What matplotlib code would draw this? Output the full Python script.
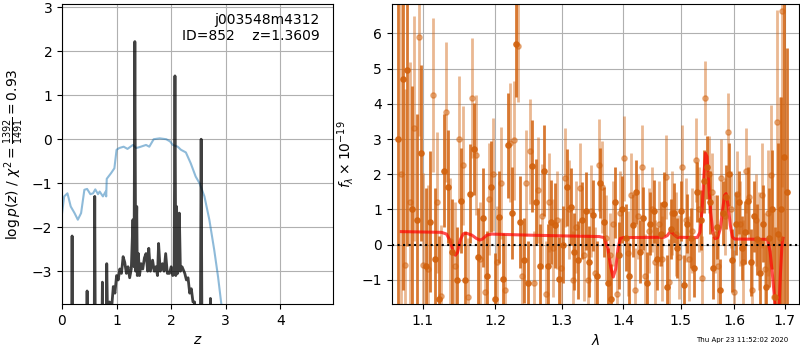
import numpy as np
import matplotlib
matplotlib.use('Agg')
from matplotlib import pyplot as plt
from matplotlib.ticker import ScalarFormatter, NullLocator, FixedLocator

# --- left panel: redshift fit ---
z_chi = [0.0, 0.04, 0.1, 0.16, 0.23, 0.29, 0.35, 0.41, 0.46, 0.52, 0.57, 0.61, 0.66,
         0.69, 0.75, 0.80, 0.81, 0.82, 0.9, 0.96, 1.0, 1.05, 1.13, 1.2, 1.3, 1.36,
         1.42, 1.54, 1.6, 1.68, 1.79, 1.91, 1.98, 2.03, 2.12, 2.18, 2.27, 2.36, 2.45,
         2.52, 2.61, 2.7, 2.79, 2.86, 2.92, 3.0]
chi_curve = [-1.69, -1.3, -1.23, -1.53, -1.68, -1.83, -1.68, -1.15, -1.13, -1.25, -1.23,
             -1.14, -1.25, -1.19, -1.3, -1.19, -1.3, -0.9, -0.77, -0.66, -0.24, -0.2,
             -0.17, -0.22, -0.13, -0.2, -0.18, -0.13, -0.17, 0.0, 0.02, 0.0, -0.05,
             -0.13, -0.17, -0.24, -0.3, -0.55, -0.85, -1.0, -1.3, -1.83, -2.52, -3.13,
             -3.75, -4.6]

z_grid = [0.0, 0.17, 0.185, 0.2, 0.44, 0.46, 0.48, 0.585, 0.6, 0.615, 0.72, 0.74, 0.76,
          0.8, 0.82, 0.84, 0.87, 0.9, 0.94, 0.97, 1.0, 1.03, 1.06, 1.09, 1.12, 1.15,
          1.18, 1.21, 1.24, 1.27, 1.3, 1.32, 1.335, 1.35, 1.37, 1.38, 1.4, 1.42, 1.45,
          1.48, 1.51, 1.54, 1.57, 1.59, 1.62, 1.66, 1.69, 1.72, 1.75, 1.77, 1.8, 1.84,
          1.87, 1.9, 1.93, 1.97, 2.0, 2.03, 2.055, 2.07, 2.085, 2.1, 2.12, 2.15, 2.17,
          2.2, 2.25, 2.28, 2.31, 2.34, 2.37, 2.4, 2.43, 2.47, 2.53, 2.55, 2.57, 2.62,
          2.7, 2.72, 2.74, 3.0, 5.0]
logpz = [-6.0, -6.0, -2.2, -6.0, -6.0, -3.45, -6.0, -6.0, -1.3, -6.0, -6.0, -3.25, -6.0,
         -6.0, -2.83, -4.5, -3.7, -4.0, -3.35, -3.5, -3.1, -3.2, -2.95, -3.05, -2.67,
         -2.8, -3.05, -2.9, -3.15, -2.95, -1.83, -2.9, 2.22, -3.0, -1.53, -3.1, -2.6,
         -3.1, -2.83, -2.95, -2.7, -2.6, -3.0, -2.48, -3.0, -2.75, -3.0, -2.9, -3.1,
         -2.37, -3.0, -2.83, -3.0, -2.6, -3.05, -3.05, -2.9, -3.1, -2.9, 1.44, -3.1,
         -1.53, -3.05, -1.68, -3.0, -2.9, -3.05, -3.2, -3.15, -3.5, -3.4, -3.7, -3.7,
         -6.0, -6.0, 0.0, -6.0, -6.0, -6.0, -3.62, -6.0, -6.0, -6.0]

# --- right panel: spectrum ---
lam_dark = np.linspace(1.068, 1.704, 107)
flux_dark = [3.0, 4.7, 4.95, 1.0, 0.7, 2.6, -0.6, 0.65, -0.4, -1.55,
             2.1, 1.65, -0.2, -1.0, 1.25, -1.0, 1.45, 2.72, -0.35, 0.77,
             -0.9, 1.65, -1.55, 0.78, -0.98, 2.82, 0.9, 5.7, 0.64, -0.45,
             -1.1, 2.23, 1.22, -0.6, 2.1, -0.6, 0.64, 0.55, -0.98, 0.0,
             1.63, 1.08, -0.2, -0.43, 0.69, 0.96, -0.48, 0.83, -0.9, 1.75,
             0.65, -1.1, -1.55, 1.2, -0.3, 1.0, 0.2, -0.9, 0.55, 1.5,
             -0.2, 0.75, -1.1, 0.6, 0.95, -0.4, 0.3, 1.15, -1.2, 0.45,
             0.9, -0.1, 0.95, -1.15, 0.6, 0.2, -0.65, 1.5, 0.7, 1.8,
             2.2, 1.2, -0.65, 0.5, -1.3, 0.9, 1.35, 2.0, -0.45, 0.6,
             1.2, -0.1, 0.35, 1.25, -0.5, 0.8, 0.15, -0.8, 0.6, -1.2,
             0.2, 1.0, -1.5, 0.3, 1.0, 2.5, 1.5]
err_dark = [8.0, 6.0, 5.0, 3.5, 3.0, 2.5, 2.2, 2.0, 2.0, 1.8,
            1.6, 1.6, 1.5, 1.5, 1.5, 1.4, 1.4, 1.3, 1.4, 1.4,
            1.3, 1.3, 1.3, 1.3, 1.3, 1.5, 1.3, 1.5, 1.3, 1.2,
            1.2, 1.3, 1.2, 1.2, 1.3, 1.2, 1.2, 1.2, 1.2, 1.1,
            1.1, 1.1, 1.1, 1.1, 1.1, 1.1, 1.0, 1.0, 1.0, 1.0,
            1.0, 1.0, 1.0, 1.0, 0.95, 0.95, 0.95, 0.95, 0.9, 0.9,
            0.9, 0.9, 0.9, 0.9, 0.9, 0.9, 0.9, 0.9, 0.9, 0.85,
            0.85, 0.85, 0.85, 0.85, 0.85, 0.85, 0.85, 0.85, 0.85, 0.9,
            0.9, 0.9, 0.9, 0.9, 0.9, 0.9, 0.9, 0.9, 0.9, 0.9,
            0.9, 0.9, 0.9, 0.95, 0.95, 1.0, 1.0, 1.0, 1.1, 1.2,
            1.4, 1.7, 2.0, 2.6, 3.2, 4.5, 4.1]

lam_light = np.linspace(1.071, 1.695, 105)
flux_light = [2.0, -0.57, 1.2, 3.3, 5.9, -0.57, -0.7, 4.25, 1.2, -1.45,
              3.77, 0.1, -0.6, 3.0, 2.25, -1.5, 4.17, 2.55, -0.4, -1.35,
              1.3, 2.0, -0.5, 1.75, -1.3, 2.9, 2.96, 5.65, -0.9, 1.75,
              2.65, -1.1, 1.55, 0.8, -1.4, 1.2, -0.1, 0.7, -0.65, 1.9,
              1.0, -1.0, 0.5, 1.6, -0.3, -1.0, 0.95, -0.8, 2.27, 1.64,
              0.2, -0.3, 0.6, -1.4, 0.9, 2.45, -0.25, 1.4, -1.3, 0.8,
              2.2, -0.9, 0.4, 1.0, -0.5, 0.6, -0.4, 1.92, -1.05, 0.9,
              0.3, -0.35, 2.2, 0.7, -0.4, 0.4, 2.4, 1.0, -0.96, 4.17,
              2.0, 1.5, 0.3, -0.6, 1.9, 0.8, 3.2, 1.0, -1.35, 1.45,
              0.6, -0.5, 2.1, 1.35, -1.3, 0.7, 0.1, 1.4, -0.7, 0.9,
              1.98, -1.5, 3.47, 0.2, 6.65]
err_light = [7.0, 5.0, 4.0, 3.2, 2.8, 2.6, 2.4, 2.2, 2.0, 2.0,
             2.0, 1.8, 1.8, 1.8, 1.7, 1.7, 1.7, 1.7, 1.6, 1.6,
             1.6, 1.6, 1.6, 1.6, 1.6, 1.7, 1.7, 1.6, 1.5, 1.5,
             1.5, 1.5, 1.5, 1.5, 1.5, 1.4, 1.4, 1.4, 1.4, 1.4,
             1.4, 1.4, 1.3, 1.3, 1.3, 1.3, 1.3, 1.3, 1.3, 1.3,
             1.2, 1.2, 1.2, 1.2, 1.2, 1.2, 1.2, 1.2, 1.2, 1.2,
             1.2, 1.2, 1.2, 1.2, 1.2, 1.2, 1.2, 1.2, 1.2, 1.2,
             1.2, 1.2, 1.2, 1.2, 1.2, 1.2, 1.2, 1.2, 1.2, 1.05,
             1.1, 1.1, 1.1, 1.1, 1.1, 1.1, 1.1, 1.1, 1.2, 1.2,
             1.2, 1.2, 1.2, 1.2, 1.3, 1.3, 1.4, 1.5, 1.6, 1.8,
             2.0, 2.5, 3.2, 4.0, 5.0]

lam_model = [1.072, 1.100, 1.125, 1.132, 1.137, 1.141, 1.144, 1.147, 1.151, 1.155,
             1.160, 1.167, 1.173, 1.178, 1.182, 1.188, 1.195, 1.25, 1.30, 1.36,
             1.368, 1.374, 1.379, 1.383, 1.387, 1.391, 1.395, 1.40, 1.47, 1.476,
             1.482, 1.488, 1.494, 1.53, 1.535, 1.539, 1.542, 1.545, 1.548, 1.551,
             1.555, 1.559, 1.563, 1.568, 1.573, 1.577, 1.581, 1.584, 1.588, 1.592,
             1.596, 1.60, 1.665, 1.670, 1.675, 1.680, 1.684, 1.688, 1.691, 1.694, 1.696]
flux_model = [0.37, 0.36, 0.35, 0.30, 0.10, -0.20, -0.30, -0.22, 0.15, 0.31,
              0.32, 0.27, 0.18, 0.13, 0.16, 0.27, 0.30, 0.27, 0.25, 0.23,
              0.20, -0.10, -0.65, -0.92, -0.70, -0.10, 0.18, 0.20, 0.21, 0.26,
              0.39, 0.28, 0.21, 0.20, 0.35, 1.0, 1.9, 2.6, 2.5, 1.8,
              0.9, 0.35, 0.17, 0.20, 0.45, 0.95, 1.4, 1.45, 1.1, 0.55,
              0.22, 0.16, 0.15, -0.2, -0.9, -1.7, -2.3, -1.8, -0.8, 0.0, 0.18]

wave_ticks = [1.1, 1.2, 1.3, 1.4, 1.5, 1.6, 1.7]

fig = plt.figure(figsize=(8, 3.5), dpi=100)
ax = fig.add_axes([0.0775, 0.131, 0.339, 0.857])
ax.plot(z_chi, chi_curve, color='C0', alpha=0.5, lw=1.5)
ax.plot(z_grid, logpz, color='k', alpha=0.75, lw=2)
ax.set_xlim(0, 4.97)
ax.set_ylim(-3.75, 3.07)
ax.grid()
ax.set_xlabel(r'$z$')
ax.set_ylabel(r'$\log p(z)$' + ' / ' + r'$\chi^2=\frac{1392}{1491}=0.93$')
ax.text(0.95, 0.97, 'j003548m4312\nID=852    z=1.3609', ha='right', va='top',
        transform=ax.transAxes, fontsize=10)

ax2 = fig.add_axes([0.4896, 0.131, 0.509, 0.857])
ax2.errorbar(lam_light, flux_light, yerr=err_light, color='#d2620e', alpha=0.45,
             marker='o', ms=3.8, linestyle='None', elinewidth=2)
ax2.errorbar(lam_dark, flux_dark, yerr=err_dark, color='#d2620e', alpha=0.85,
             marker='o', ms=3.8, linestyle='None', elinewidth=2)
ax2.plot(lam_model, flux_model, color='r', alpha=0.7, lw=2.2)
ax2.axhline(0, color='k', ls=':', lw=1.5)
ax2.set_xscale('log')
ax2.set_xlim(1.0597, 1.7288)
ax2.set_ylim(-1.69, 6.83)
ax2.xaxis.set_major_locator(FixedLocator(wave_ticks))
ax2.xaxis.set_major_formatter(ScalarFormatter())
ax2.xaxis.set_minor_locator(NullLocator())
ax2.grid()
ax2.set_xlabel(r'$\lambda$')
ax2.set_ylabel(r'$f_\lambda \times 10^{-19}$')

fig.text(0.985, 0.02, 'Thu Apr 23 11:52:02 2020', ha='right', va='bottom', fontsize=5)

fig.savefig('out.png', dpi=100)
